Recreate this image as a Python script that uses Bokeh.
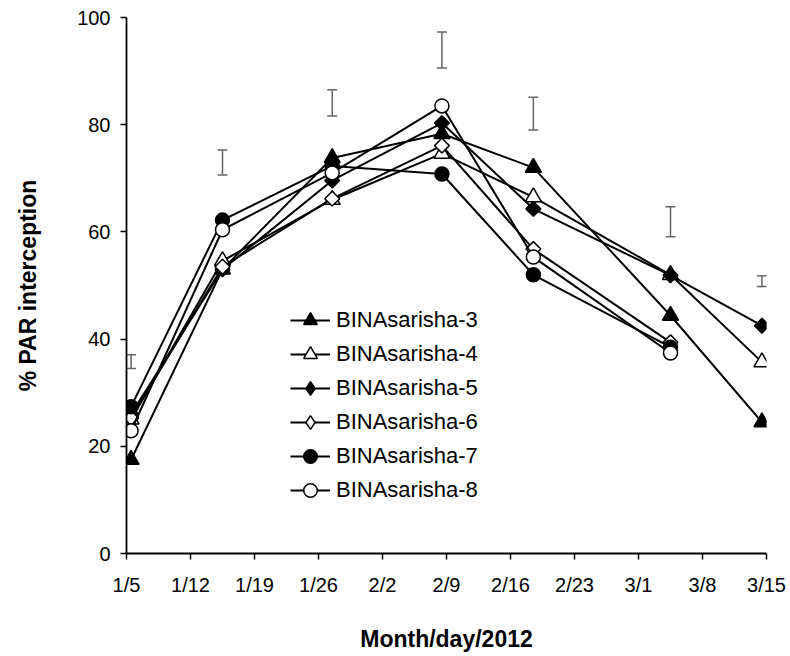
import math
from bokeh.plotting import figure
from bokeh.models import (Range1d, FixedTicker, Legend, LegendItem, ColumnDataSource,
                          Whisker, TeeHead)
from bokeh.transform import dodge
from bokeh.core.properties import value
from bokeh.embed import file_html
from bokeh.resources import INLINE

nan = float("nan")

# sampling dates (days after 1/5/2012)
dates = ["1/5", "1/15", "1/27", "2/8", "2/18", "3/4", "3/14"]
days = [0, 10, 22, 34, 44, 59, 69]

# x tick labels (weekly)
tick_days = [0, 7, 14, 21, 28, 35, 42, 49, 56, 63, 70]
tick_labels = ["1/5", "1/12", "1/19", "1/26", "2/2", "2/9", "2/16", "2/23", "3/1", "3/8", "3/15"]
y_ticks = [0, 20, 40, 60, 80, 100]

# % PAR interception
bs3 = [17.5, 53.0, 73.8, 78.3, 72.0, 44.4, 24.5]
bs4 = [25.0, 54.6, 66.0, 74.6, 66.5, 52.0, 35.7]
bs5 = [26.0, 53.0, 69.6, 80.3, 64.3, 51.9, 42.5]
bs6 = [25.3, 53.5, 66.2, 76.1, 56.8, 39.4, nan]
bs7 = [27.4, 62.2, 72.3, 70.8, 52.0, 38.5, nan]
bs8 = [22.9, 60.4, 71.0, 83.5, 55.3, 37.4, nan]

# LSD bars
lsd_low = [34.5, 70.6, 81.6, 90.6, 79.0, 59.1, 49.8]
lsd_high = [37.1, 75.3, 86.5, 97.3, 85.1, 64.7, 51.8]

names = ["BINAsarisha-3", "BINAsarisha-4", "BINAsarisha-5",
         "BINAsarisha-6", "BINAsarisha-7", "BINAsarisha-8"]

FONT = "Liberation Sans"

p = figure(width=786, height=654, output_backend="svg", toolbar_location=None,
           x_range=Range1d(0, 70), y_range=Range1d(0, 100),
           min_border_left=126, min_border_right=20, min_border_top=17, min_border_bottom=100)
p.outline_line_color = None
p.grid.visible = False
p.background_fill_color = "white"
p.border_fill_color = "white"

# axes
p.xaxis.ticker = FixedTicker(ticks=tick_days)
p.xaxis.major_label_overrides = {d: l for d, l in zip(tick_days, tick_labels)}
p.yaxis.ticker = FixedTicker(ticks=y_ticks)
for ax in (p.xaxis[0], p.yaxis[0]):
    ax.axis_line_color = "black"
    ax.axis_line_width = 1.8
    ax.major_tick_line_color = "black"
    ax.major_tick_line_width = 1.5
    ax.major_tick_out = 6
    ax.major_tick_in = 0
    ax.minor_tick_line_color = None
    ax.major_label_text_font = FONT
    ax.major_label_text_font_size = "20px"
    ax.major_label_text_color = "black"
    ax.axis_label_text_font = FONT
    ax.axis_label_text_font_style = "bold"
    ax.axis_label_text_font_size = "23px"
    ax.axis_label_text_color = "black"

p.xaxis.axis_label = "Month/day/2012"
p.xaxis.major_label_standoff = 14
p.xaxis.axis_label_standoff = 27
p.yaxis.axis_label = "% PAR interception"
p.yaxis.major_label_standoff = 10
p.yaxis.axis_label_standoff = 33

# LSD bars
esrc = ColumnDataSource(dict(day=days, low=lsd_low, high=lsd_high))
wh = Whisker(source=esrc, base=dodge("day", 0.5), lower="low", upper="high",
             line_color="#666666", line_width=1.5,
             lower_head=TeeHead(size=10, line_color="#666666", line_width=1.5),
             upper_head=TeeHead(size=10, line_color="#666666", line_width=1.5))
p.add_layout(wh)

series = [bs3, bs4, bs5, bs6, bs7, bs8]
markers = ["triangle", "triangle", "diamond", "diamond", "circle", "circle"]
fills = ["black", "white", "black", "white", "black", "white"]
sizes = [16, 16, 12, 12, 14, 14]

items = []
for name, vals, mk, fc, sz in zip(names, series, markers, fills, sizes):
    src = ColumnDataSource(dict(day=days, v=vals))
    lr = p.line(x=dodge("day", 0.5), y="v", source=src, line_color="black", line_width=2)
    if mk == "diamond":
        # legend-shaped diamond (fully hidden under the square diamond below)
        leg_r = p.scatter(x=dodge("day", 0.5), y="v", source=src, marker="diamond", size=sz,
                          fill_color=fc, line_color="black", line_width=1.5)
        p.scatter(x=dodge("day", 0.5), y="v", source=src, marker="square", size=10.5,
                  angle=math.pi / 4, fill_color=fc, line_color="black", line_width=1.5)
    else:
        leg_r = p.scatter(x=dodge("day", 0.5), y="v", source=src, marker=mk, size=sz,
                          fill_color=fc, line_color="black", line_width=1.5)
    items.append(LegendItem(label=name, renderers=[lr, leg_r]))

legend = Legend(items=items, location=(164, 46), orientation="vertical",
                glyph_width=40, glyph_height=34, spacing=0, padding=0, margin=0,
                label_standoff=6, label_text_font=FONT, label_text_font_size="22px",
                label_text_color="black", border_line_color=None,
                background_fill_alpha=0)
p.add_layout(legend, "center")

open("out.html", "w").write(file_html(p, INLINE))
